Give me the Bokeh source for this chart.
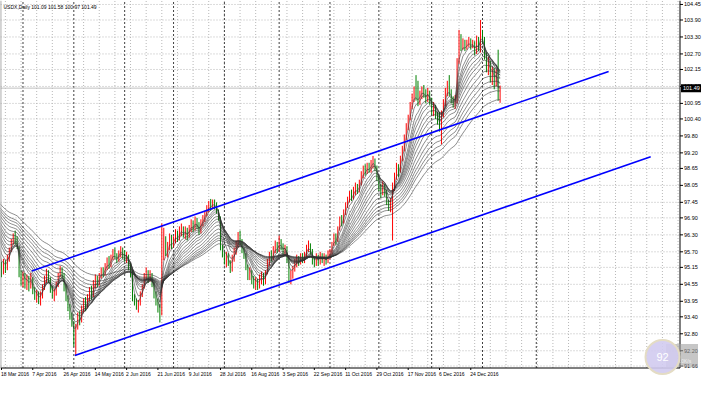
from bokeh.plotting import figure
from bokeh.models import Range1d
from bokeh.core.properties import value
from bokeh.embed import file_html
from bokeh.resources import INLINE

# ---------------- data ----------------
title_text = "USDX,Daily  101.09 101.58 100.97 101.49"
date_labels = ["18 Mar 2016", "7 Apr 2016", "26 Apr 2016", "14 May 2016", "2 Jun 2016",
               "21 Jun 2016", "9 Jul 2016", "28 Jul 2016", "16 Aug 2016", "3 Sep 2016",
               "22 Sep 2016", "11 Oct 2016", "29 Oct 2016", "17 Nov 2016", "6 Dec 2016",
               "24 Dec 2016"]
date_label_bars = [0, 16, 32, 48, 64, 80, 96, 112, 128, 144, 160, 176, 192, 208, 224, 240]
month_start_bars = [11, 37, 63, 88, 114, 142, 168, 193, 220, 246, 273.5]
price_ticks = [104.45, 103.90, 103.30, 102.70, 102.15, 101.55, 100.95, 100.40, 99.80, 99.20,
               98.65, 98.05, 97.45, 96.90, 96.30, 95.70, 95.15, 94.55, 93.95, 93.40, 92.80,
               92.20, 91.66]
last_price = 101.49

# closes before the first visible bar (Jan - mid Mar 2016), used by the averages
pre_closes = [98.7, 98.9, 99.1, 98.5, 98.3, 98.4, 98.6, 99.0, 98.9, 98.8, 99.1, 98.9, 99.0,
              98.8, 98.5, 98.7, 99.0, 99.3, 99.5, 99.6, 99.3, 99.4, 99.6, 99.7, 99.5, 98.6,
              97.1, 97.0, 96.9, 96.6, 96.8, 96.4, 96.2, 96.3, 96.5, 96.9, 96.9, 97.0, 96.7,
              97.1, 97.2, 97.4, 97.6, 97.8, 97.9, 98.2, 98.1, 98.0, 97.6, 97.3, 97.4, 97.2,
              97.0, 96.9, 97.3, 96.3, 96.1, 96.2, 96.5, 96.4, 96.5, 96.4, 95.9, 95.2]

closes = [95.05, 95.30, 95.15, 95.45, 95.75, 96.05, 96.20, 96.10, 95.95, 94.95,
          94.60, 94.85, 94.55, 94.70, 94.50, 94.75, 94.35, 94.10, 94.20, 93.95,
          94.15, 94.45, 94.70, 94.95, 94.75, 94.40, 94.15, 94.25, 94.55, 94.85,
          95.10, 94.90, 94.45, 94.10, 93.75, 93.45, 93.20, 92.45, 93.05, 93.40,
          93.30, 93.65, 93.90, 93.75, 94.05, 94.30, 94.15, 94.55, 94.75, 94.60,
          94.85, 95.05, 94.90, 95.20, 95.35, 95.25, 95.50, 95.70, 95.55, 95.40,
          95.65, 95.80, 95.60, 95.50, 95.55, 95.20, 94.95, 94.05, 93.90, 93.75,
          93.85, 94.20, 94.45, 94.80, 94.95, 94.75, 94.90, 94.60, 94.20, 93.95,
          93.70, 93.50, 95.55, 96.10, 95.70, 95.85, 96.20, 95.95, 96.10, 96.35,
          96.15, 96.40, 96.55, 96.30, 96.45, 96.25, 96.50, 96.70, 96.55, 96.80,
          96.65, 96.40, 96.70, 96.90, 97.05, 97.25, 97.40, 97.30, 97.45, 97.35,
          97.20, 96.90, 95.90, 95.60, 95.35, 95.55, 95.30, 95.10, 95.45, 95.70,
          95.95, 96.25, 96.05, 95.75, 95.60, 95.20, 94.85, 95.00, 94.70, 94.55,
          94.70, 94.50, 94.75, 94.85, 94.65, 94.95, 95.30, 95.55, 95.45, 95.75,
          95.95, 95.80, 96.10, 95.90, 95.70, 95.85, 95.45, 94.75, 94.90, 95.10,
          95.30, 95.45, 95.30, 95.55, 95.40, 95.60, 95.85, 95.95, 95.70, 95.40,
          95.25, 95.50, 95.35, 95.55, 95.40, 95.50, 95.35, 95.60, 95.70, 95.95,
          96.25, 96.10, 96.50, 96.85, 96.75, 97.10, 97.35, 97.55, 97.75, 97.60,
          97.85, 98.00, 97.85, 98.10, 98.40, 98.65, 98.55, 98.75, 98.60, 98.80,
          98.95, 98.70, 98.35, 98.00, 97.75, 98.05, 97.80, 97.45, 97.30, 97.45,
          97.95, 98.35, 98.70, 98.55, 98.95, 99.30, 99.70, 100.10, 100.40, 100.85,
          101.15, 101.40, 101.20, 101.00, 101.25, 101.45, 101.30, 101.10, 101.35, 101.05,
          100.70, 100.85, 100.55, 100.30, 100.05, 100.55, 100.95, 101.35, 101.60, 101.35,
          101.10, 100.95, 101.10, 102.40, 103.25, 102.95, 103.10, 102.90, 103.05, 103.15,
          102.95, 103.05, 102.80, 103.05, 102.95, 103.45, 103.25, 102.65, 102.20, 102.35,
          101.85, 102.10, 101.70, 101.95, 101.09, 101.49]

highs = [95.35, 95.45, 95.40, 95.60, 95.85, 96.15, 96.35, 96.45, 96.25, 95.90,
         95.05, 95.00, 94.95, 94.90, 94.85, 94.95, 94.80, 94.45, 94.35, 94.30,
         94.30, 94.55, 94.85, 95.10, 95.05, 94.80, 94.50, 94.40, 94.65, 94.95,
         95.20, 95.15, 94.95, 94.55, 94.15, 93.85, 93.55, 93.25, 93.15, 93.55,
         93.60, 93.80, 94.05, 94.10, 94.20, 94.45, 94.50, 94.70, 94.90, 94.85,
         94.95, 95.15, 95.15, 95.30, 95.50, 95.55, 95.60, 95.80, 95.85, 95.65,
         95.75, 95.90, 95.85, 95.75, 95.70, 95.60, 95.30, 95.05, 94.20, 94.05,
         94.00, 94.30, 94.55, 94.95, 95.15, 95.05, 95.05, 94.95, 94.65, 94.30,
         94.05, 93.85, 96.70, 96.55, 96.25, 96.05, 96.35, 96.30, 96.25, 96.50,
         96.45, 96.60, 96.70, 96.60, 96.60, 96.55, 96.65, 96.85, 96.80, 96.95,
         96.90, 96.75, 96.85, 97.00, 97.15, 97.35, 97.50, 97.57, 97.55, 97.55,
         97.45, 97.20, 96.95, 95.95, 95.70, 95.70, 95.65, 95.40, 95.60, 95.85,
         96.10, 96.40, 96.45, 96.15, 95.85, 95.65, 95.25, 95.15, 95.05, 94.85,
         94.80, 94.75, 94.90, 95.00, 94.95, 95.05, 95.45, 95.70, 95.75, 95.90,
         96.10, 96.05, 96.27, 96.15, 96.00, 95.95, 95.90, 95.50, 95.05, 95.20,
         95.45, 95.60, 95.55, 95.65, 95.65, 95.70, 95.95, 96.10, 96.00, 95.80,
         95.55, 95.65, 95.60, 95.70, 95.65, 95.65, 95.60, 95.75, 95.80, 96.05,
         96.35, 96.35, 96.60, 96.95, 97.00, 97.20, 97.45, 97.65, 97.85, 97.90,
         98.00, 98.15, 98.10, 98.25, 98.55, 98.75, 98.80, 98.85, 98.85, 98.95,
         99.09, 99.00, 98.75, 98.40, 98.10, 98.20, 98.10, 97.90, 97.55, 97.60,
         98.15, 98.50, 98.85, 98.80, 99.10, 99.45, 99.85, 100.25, 100.55, 101.00,
         101.30, 101.55, 101.95, 101.75, 101.40, 101.55, 101.60, 101.45, 101.50, 101.40,
         101.15, 101.00, 100.90, 100.65, 100.65, 100.70, 101.10, 101.50, 101.75, 101.95,
         101.45, 101.20, 101.25, 102.55, 103.55, 103.40, 103.25, 103.20, 103.20, 103.30,
         103.25, 103.20, 103.15, 103.35, 103.30, 103.90, 103.55, 103.30, 102.75, 102.60,
         102.45, 102.25, 102.20, 102.15, 102.85, 101.58]

lows = [94.80, 94.90, 94.95, 95.05, 95.35, 95.70, 95.95, 95.95, 95.80, 94.80,
        94.50, 94.45, 94.40, 94.35, 94.30, 94.40, 94.20, 94.00, 93.90, 93.85,
        93.80, 94.05, 94.35, 94.60, 94.60, 94.25, 94.05, 93.95, 94.15, 94.45,
        94.80, 94.75, 94.30, 93.95, 93.60, 93.30, 93.05, 92.35, 92.02, 92.95,
        93.10, 93.20, 93.55, 93.60, 93.70, 93.95, 94.00, 94.10, 94.40, 94.45,
        94.50, 94.75, 94.80, 94.85, 95.05, 95.10, 95.15, 95.40, 95.45, 95.30,
        95.35, 95.50, 95.45, 95.35, 95.30, 95.05, 94.80, 93.95, 93.80, 93.65,
        93.55, 93.80, 94.10, 94.40, 94.70, 94.60, 94.65, 94.45, 94.05, 93.80,
        93.55, 93.20, 93.45, 95.40, 95.55, 95.50, 95.75, 95.80, 95.85, 96.00,
        96.05, 96.10, 96.25, 96.20, 96.15, 96.10, 96.20, 96.40, 96.40, 96.45,
        96.50, 96.30, 96.35, 96.60, 96.75, 96.95, 97.10, 97.15, 97.20, 97.20,
        97.05, 96.80, 95.75, 95.50, 95.25, 95.15, 95.20, 94.95, 95.00, 95.35,
        95.60, 95.85, 95.95, 95.65, 95.45, 95.05, 94.70, 94.70, 94.55, 94.40,
        94.35, 94.35, 94.40, 94.55, 94.50, 94.55, 94.90, 95.20, 95.35, 95.40,
        95.65, 95.65, 95.70, 95.75, 95.60, 95.55, 95.30, 94.60, 94.55, 94.75,
        95.00, 95.15, 95.20, 95.25, 95.30, 95.30, 95.50, 95.70, 95.60, 95.25,
        95.15, 95.20, 95.20, 95.25, 95.30, 95.20, 95.25, 95.30, 95.45, 95.60,
        95.90, 95.95, 96.05, 96.45, 96.60, 96.70, 97.00, 97.25, 97.45, 97.50,
        97.55, 97.70, 97.75, 97.80, 98.05, 98.30, 98.40, 98.45, 98.50, 98.50,
        98.65, 98.55, 98.20, 97.85, 97.60, 97.70, 97.65, 97.35, 97.15, 97.10,
        96.10, 97.85, 98.25, 98.35, 98.50, 98.90, 99.25, 99.65, 100.00, 100.35,
        100.75, 101.00, 101.05, 100.85, 100.90, 101.10, 101.15, 100.95, 101.00, 100.90,
        100.55, 100.50, 100.40, 100.20, 99.95, 99.50, 100.45, 100.85, 101.20, 101.20,
        100.95, 100.80, 100.75, 100.95, 102.35, 102.80, 102.85, 102.80, 102.85, 102.95,
        102.85, 102.90, 102.65, 102.70, 102.80, 102.75, 103.10, 102.50, 102.05, 101.95,
        101.70, 101.60, 101.45, 101.55, 101.05, 100.97]

ema_periods = [3, 5, 8, 10, 12, 15, 18, 21, 25, 30, 35, 40, 45, 50, 60]

channel_upper_bars = [15.5, 310.5]
channel_upper_prices = [95.02, 102.08]
channel_lower_bars = [37.5, 332.0]
channel_lower_prices = [92.03, 99.06]

# ---------------- derived ----------------
n = len(closes)
bars = list(range(n))
opens = [pre_closes[-1]] + closes[:-1]
bar_colors = ["#ff0000" if c >= o else "#008000" for o, c in zip(opens, closes)]
all_closes = pre_closes + closes
all_bars = list(range(-len(pre_closes), n))

# ---------------- layout constants (screen scale) ----------------
W, H = 702, 379
X0, X1 = -0.5, 347.0          # chart area in bar units
Y0, Y1 = 91.59, 104.59        # chart area in price units
CHART_W, CHART_H = 679.5, 367.5
PXX = (X1 - X0) / CHART_W     # bars per pixel
PXY = (Y1 - Y0) / CHART_H     # price per pixel
XR_END = X0 + W * PXX
YR_START = Y1 - H * PXY

FONT = "Liberation Sans"
GRID = "#b8b8b8"

p = figure(width=W, height=H, x_range=Range1d(X0, XR_END), y_range=Range1d(YR_START, Y1),
           output_backend="svg", toolbar_location=None,
           x_axis_location=None, y_axis_location=None,
           min_border=0, min_border_left=0, min_border_right=0,
           min_border_top=0, min_border_bottom=0)
p.background_fill_color = "white"
p.border_fill_color = "white"
p.outline_line_color = None
p.xgrid.visible = False
p.ygrid.visible = False

# dotted grid inside the chart area
grid_x = list(range(2, int(X1), 8))
p.segment(x0=grid_x, y0=[Y0] * len(grid_x), x1=grid_x, y1=[Y1] * len(grid_x),
          line_color=GRID, line_dash="1 2", line_width=1)
p.segment(x0=[X0] * len(price_ticks), y0=price_ticks, x1=[X1] * len(price_ticks), y1=price_ticks,
          line_color=GRID, line_dash="1 2", line_width=1)

# month separators
p.segment(x0=month_start_bars, y0=[Y0] * len(month_start_bars), x1=month_start_bars,
          y1=[Y1] * len(month_start_bars), line_color="#404040", line_dash="2 2", line_width=1)

# current price line
p.segment(x0=[X0], y0=[last_price], x1=[X1], y1=[last_price], line_color="#c0c0c0", line_width=1)

# bars
p.segment(x0=bars, y0=lows, x1=bars, y1=highs, line_color=bar_colors, line_width=1)

# moving averages
for per in ema_periods:
    a = 2.0 / (per + 1)
    e = []
    cur = all_closes[0]
    for c in all_closes:
        cur = a * c + (1 - a) * cur
        e.append(cur)
    p.line(all_bars, e, line_color="#333333", line_width=0.7, line_alpha=0.8)

# channel
p.line(channel_upper_bars, channel_upper_prices, line_color="#0000ff", line_width=1.6)
p.line(channel_lower_bars, channel_lower_prices, line_color="#0000ff", line_width=1.6)

# chart border
p.segment(x0=[X1, X0, X0 + 0.3 * PXX], y0=[Y0, Y0, Y0], x1=[X1, X1, X0 + 0.3 * PXX],
          y1=[Y1, Y0, Y1], line_color=["#000000", "#000000", "#808080"], line_width=1)

# right price scale: ticks + labels
p.segment(x0=[X1] * len(price_ticks), y0=price_ticks,
          x1=[X1 + 3 * PXX] * len(price_ticks), y1=price_ticks, line_color="black", line_width=1)
p.text(x=[X1 + 4 * PXX] * len(price_ticks), y=price_ticks, text=["%.2f" % t for t in price_ticks],
       text_font=value(FONT), text_font_size="5.5px", text_color="black",
       text_align="left", text_baseline="middle")

# bottom time scale: ticks + labels
p.segment(x0=date_label_bars, y0=[Y0] * len(date_label_bars), x1=date_label_bars,
          y1=[Y0 - 2 * PXY] * len(date_label_bars), line_color="black", line_width=1)
p.text(x=[b - 0.5 * PXX for b in date_label_bars], y=[Y0 - 2.5 * PXY] * len(date_label_bars),
       text=date_labels, text_font=value(FONT), text_font_size="5px", text_color="black",
       text_align="left", text_baseline="top")

# title
p.text(x=[X0 + 3 * PXX], y=[Y1 - 3 * PXY], text=[title_text], text_font=value(FONT),
       text_font_size="5px", text_color="black", text_align="left", text_baseline="top")

# current price tag
p.quad(left=[X1 + 1 * PXX], right=[X1 + 21 * PXX], bottom=[last_price - 4 * PXY],
       top=[last_price + 4 * PXY], fill_color="black", line_color=None)
p.text(x=[X1 + 3 * PXX], y=[last_price], text=["%.2f" % last_price], text_font=value(FONT),
       text_font_size="5.5px", text_color="white", text_align="left", text_baseline="middle")

# watermark badge (bottom right)
p.quad(left=[X1 - 14 * PXX], right=[X1 + 18 * PXX], bottom=[Y0 + 1 * PXY], top=[Y0 + 24 * PXY],
       fill_color="#a0a0a0", fill_alpha=0.6, line_color=None)
p.text(x=[X1 - 3 * PXX], y=[Y0 + 7 * PXY], text=["0.0K/s"], text_font=value(FONT),
       text_font_size="5px", text_color="#f0f0f0", text_align="left", text_baseline="middle")
p.text(x=[X1 - 3 * PXX], y=[Y0 + 17 * PXY], text=["1."], text_font=value(FONT),
       text_font_size="5px", text_color="#f0f0f0", text_align="left", text_baseline="middle")
p.scatter([X1 - 17.5 * PXX], [Y0 + 11 * PXY], size=34, marker="circle", fill_color="#d2cbef",
          fill_alpha=0.9, line_color="#e4dcc4", line_width=2)
p.text(x=[X1 - 17.5 * PXX], y=[Y0 + 11 * PXY], text=["92"], text_font=value(FONT),
       text_font_size="11px", text_color="white", text_align="center", text_baseline="middle")

open("out.html", "w").write(file_html(p, INLINE))
